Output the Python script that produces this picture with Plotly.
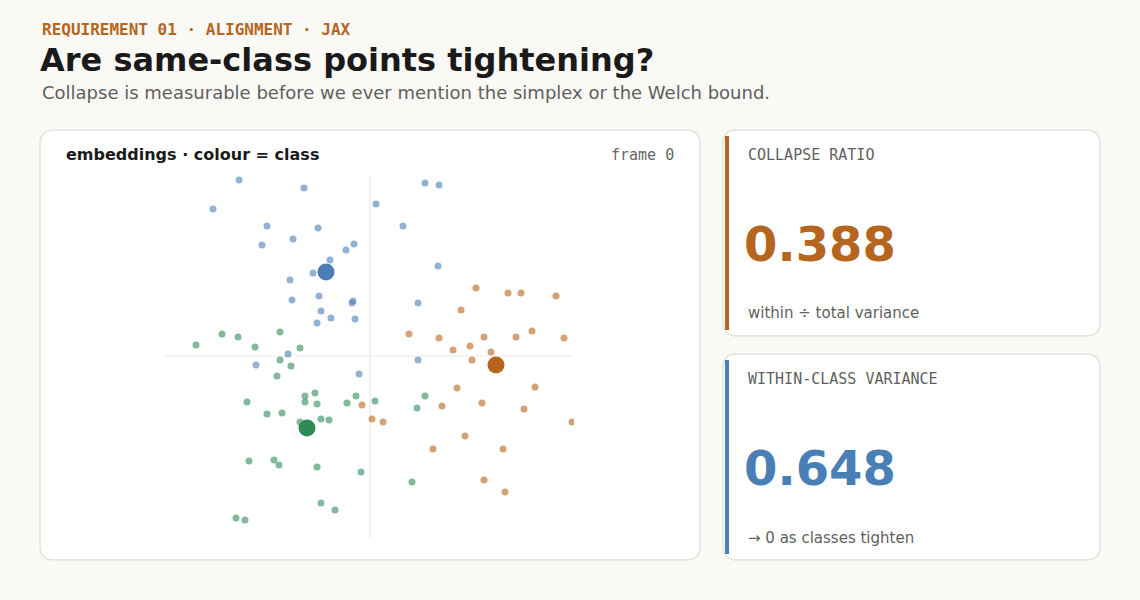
import plotly.graph_objects as go

W, H = 1140, 600
classes = ["blue", "green", "orange"]
colors = {"blue": "#4a7fb5", "green": "#2e8b57", "orange": "#b5651d"}

blue_x = [-1.31,-0.66,0.55,0.69,-1.57,0.06,-1.03,-0.52,0.33,-0.77,-1.08,-0.16,-0.24,-0.40,-0.57,0.68,-0.80,-0.51,-0.78,-0.17,-0.18,0.48,-0.49,-0.39,-0.15,-0.53,-0.82,0.48,-0.11,-1.14]
blue_y = [1.76,1.68,1.73,1.71,1.47,1.52,1.30,1.28,1.30,1.17,1.11,1.12,1.06,0.96,0.83,0.90,0.76,0.60,0.56,0.55,0.53,0.53,0.45,0.38,0.37,0.33,0.02,-0.04,-0.18,-0.09]
green_x = [-1.74,-1.48,-1.32,-1.15,-0.90,-0.70,-0.90,-0.79,-0.93,-1.23,-1.03,-0.88,-0.65,-0.55,-0.65,-0.53,-0.23,-0.14,0.05,-0.49,-0.41,-0.70,-1.21,-0.96,-0.91,-0.53,-0.09,0.42,-0.49,-0.35,-1.34,-1.25,0.55,0.47]
green_y = [0.11,0.22,0.19,0.09,0.24,0.08,-0.04,-0.10,-0.20,-0.46,-0.58,-0.57,-0.40,-0.37,-0.46,-0.48,-0.47,-0.40,-0.45,-0.63,-0.64,-0.66,-1.05,-1.04,-1.09,-1.11,-1.16,-1.26,-1.47,-1.54,-1.62,-1.64,-0.40,-0.52]
orange_x = [1.06,1.38,1.51,1.86,0.91,0.39,0.69,0.83,1.00,1.14,1.46,1.62,1.94,1.21,1.02,0.87,1.65,0.72,1.12,1.54,-0.08,0.02,0.13,0.95,0.63,1.33,1.14,1.35,2.02]
orange_y = [0.68,0.63,0.63,0.60,0.46,0.22,0.18,0.06,0.10,0.19,0.19,0.25,0.18,0.04,-0.04,-0.32,-0.31,-0.50,-0.47,-0.53,-0.49,-0.63,-0.66,-0.80,-0.93,-0.93,-1.24,-1.36,-0.66]
centroid_x = [-0.44, -0.63, 1.26]
centroid_y = [0.84, -0.72, -0.09]
collapse_ratio = 0.388
within_var = 0.648

def px(x): return x / W
def py(y): return 1 - y / H

def rr(x0, y0, x1, y1, r):
    return (f"M {px(x0+r)},{py(y0)} L {px(x1-r)},{py(y0)} Q {px(x1)},{py(y0)} {px(x1)},{py(y0+r)} "
            f"L {px(x1)},{py(y1-r)} Q {px(x1)},{py(y1)} {px(x1-r)},{py(y1)} "
            f"L {px(x0+r)},{py(y1)} Q {px(x0)},{py(y1)} {px(x0)},{py(y1-r)} "
            f"L {px(x0)},{py(y0+r)} Q {px(x0)},{py(y0)} {px(x0+r)},{py(y0)} Z")

fig = go.Figure()
for name, xs, ys in [("blue", blue_x, blue_y), ("green", green_x, green_y), ("orange", orange_x, orange_y)]:
    fig.add_trace(go.Scatter(x=xs, y=ys, mode="markers", showlegend=False, hoverinfo="skip",
                             marker=dict(size=7, color=colors[name], opacity=0.6, line=dict(width=0))))
fig.add_trace(go.Scatter(x=centroid_x, y=centroid_y, mode="markers", showlegend=False, hoverinfo="skip",
                         marker=dict(size=17, color=[colors[c] for c in classes], line=dict(width=0))))

shapes = [
    dict(type="path", path=rr(40, 130, 700, 560, 14), xref="paper", yref="paper",
         fillcolor="white", line=dict(color="#e4e3da", width=1.5), layer="below"),
    dict(type="path", path=rr(723, 130, 1100, 336, 14), xref="paper", yref="paper",
         fillcolor="white", line=dict(color="#e4e3da", width=1.5), layer="below"),
    dict(type="path", path=rr(723, 354, 1100, 560, 14), xref="paper", yref="paper",
         fillcolor="white", line=dict(color="#e4e3da", width=1.5), layer="below"),
    dict(type="rect", xref="paper", yref="paper", x0=px(725), x1=px(729), y0=py(330), y1=py(136),
         fillcolor=colors["orange"], line=dict(width=0)),
    dict(type="rect", xref="paper", yref="paper", x0=px(725), x1=px(729), y0=py(554), y1=py(360),
         fillcolor=colors["blue"], line=dict(width=0)),
    dict(type="line", xref="x", yref="y", x0=0, x1=0, y0=-1.82, y1=1.80, line=dict(color="#ebebe6", width=1.2), layer="below"),
    dict(type="line", xref="x", yref="y", x0=-2.05, x1=2.04, y0=0, y1=0, line=dict(color="#ebebe6", width=1.2), layer="below"),
]

sans = "DejaVu Sans, sans-serif"
mono = "DejaVu Sans Mono, monospace"

def ann(x, y, text, size, color, family=sans, xanchor="left"):
    return dict(x=px(x), y=py(y), xref="paper", yref="paper", text=text, showarrow=False,
                xanchor=xanchor, yanchor="middle", font=dict(size=size, color=color, family=family))

annotations = [
    ann(40, 29, "<b>REQUIREMENT 01 · ALIGNMENT · JAX</b>", 16, colors["orange"], mono),
    ann(38, 60, "<b>Are same-class points tightening?</b>", 32, "#1a1a1a"),
    ann(40, 92, "Collapse is measurable before we ever mention the simplex or the Welch bound.", 18, "#5f5f5f"),
    ann(64, 155, "<b>embeddings · colour = class</b>", 16, "#1a1a1a"),
    ann(676, 155, "frame 0", 15, "#666666", mono, "right"),
    ann(746, 155, "COLLAPSE RATIO", 15, "#5f5f5f", mono),
    ann(742, 244, f"<b>{collapse_ratio:.3f}</b>", 48, colors["orange"]),
    ann(746, 313, "within ÷ total variance", 15, "#5f5f5f"),
    ann(746, 379, "WITHIN-CLASS VARIANCE", 15, "#5f5f5f", mono),
    ann(742, 468, f"<b>{within_var:.3f}</b>", 48, colors["blue"]),
    ann(746, 538, "→ 0 as classes tighten", 15, "#5f5f5f"),
]

fig.update_layout(
    width=W, height=H, margin=dict(l=0, r=0, t=0, b=0),
    paper_bgcolor="#faf9f5", plot_bgcolor="rgba(0,0,0,0)",
    shapes=shapes, annotations=annotations,
    xaxis=dict(domain=[px(165), px(574)], range=[-2.05, 2.04], visible=False, fixedrange=True),
    yaxis=dict(domain=[py(538), py(176)], range=[-1.82, 1.80], visible=False, fixedrange=True),
)
fig.write_html("out.html", config={"displayModeBar": False},
               post_script="document.body.style.margin='0';document.body.style.background='#faf9f5';")
